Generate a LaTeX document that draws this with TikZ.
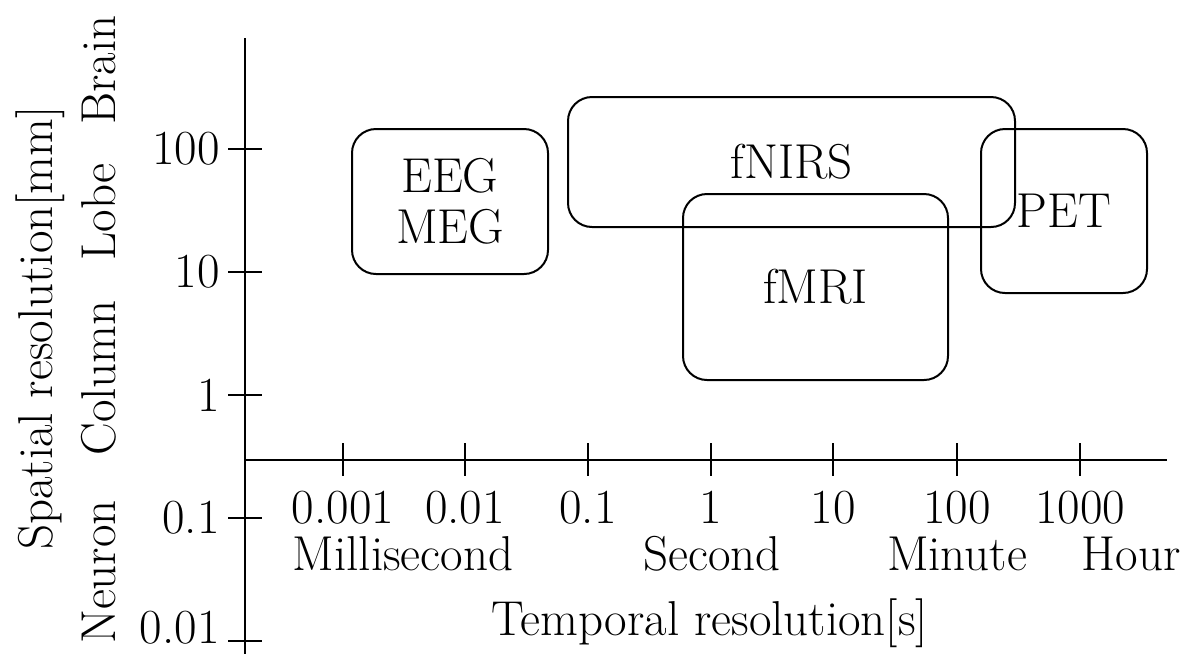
\documentclass[tikz,border=0pt]{standalone}
\usepackage{tikz}

\begin{document}
\begin{tikzpicture}[x=0.5pt,y=-0.5pt,
    every node/.style={font=\fontsize{24.5}{25.5}\selectfont},
    modality/.style={draw,line width=1pt,rounded corners=12pt,inner sep=0pt,align=center},
    ticklab/.style={inner sep=0pt},
    scaleword/.style={inner sep=0pt,rotate=90,anchor=base}]
  \useasboundingbox (0,0) rectangle (1187,654);
  % axes
  \draw[line width=1.2pt] (245,38)--(245,654);
  \draw[line width=1.2pt] (245,460)--(1167,460);
  \foreach \y/\lab in {149/100,272/10,395/1,518/0.1} {
    \draw[line width=0.9pt] (228,\y)--(262,\y);
    \node[ticklab,anchor=east] at (220,\y) {\lab}; }
  \draw[line width=0.9pt] (228,641)--(262,641);
  \node[ticklab,anchor=east] (ylow) at (220,628) {0.01};
  \foreach \x/\lab in {343/0.001,465/0.01,588/0.1,711/1,833/10,957/100,1080/1000} {
    \draw[line width=0.9pt] (\x,443)--(\x,476);
    \node[ticklab,anchor=base] at (\x,523) {\lab}; }
  \node[ticklab,anchor=base] (msec) at (403,570) {Millisecond};
  \node[ticklab,anchor=base] (sec) at (712,570) {Second};
  \node[ticklab,anchor=base] (min) at (957,570) {Minute};
  \node[ticklab,anchor=base] (hour) at (1131,570) {Hour};
  \node[ticklab,anchor=base] (xlabel) at (710,635) {Temporal resolution[s]};
  % left side
  \node[scaleword] (ylabel) at (52,328) {Spatial resolution[mm]};
  \node[scaleword] (neuron) at (115,572) {Neuron};
  \node[scaleword] (column) at (115,378) {Column};
  \node[scaleword] (lobe) at (115,212) {Lobe};
  \node[scaleword] (brain) at (115,70) {Brain};
  % methods
  \node[modality,minimum width=98pt,minimum height=72.5pt] (eegmeg) at (450,201.5) {EEG\\MEG};
  \node[modality,minimum width=223.5pt,minimum height=65pt] (fnirs) at (791.5,162) {fNIRS};
  \node[modality,minimum width=132.5pt,minimum height=93pt] (fmri) at (815.5,287) {fMRI};
  \node[modality,minimum width=83pt,minimum height=82pt] (pet) at (1064,211) {PET};
\end{tikzpicture}
\end{document}
